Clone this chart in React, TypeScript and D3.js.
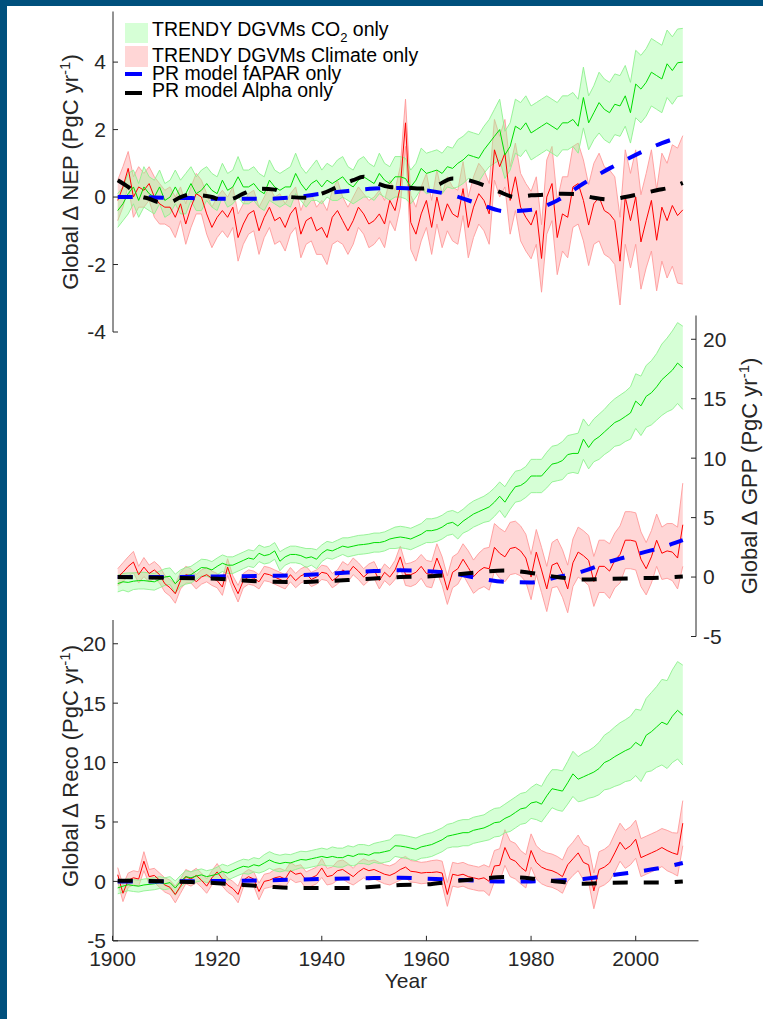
import React from "react";
import * as d3 from "d3";

// ---------------- DATA (years 1901-2009) ----------------
const firstYear = 1901;

// NEP panel
const nepCo2Mean = [-0.4,-0.2,0.1,0.3,-0.1,0.3,0.1,0.0,0.3,-0.1,
 0.0,0.3,0.0,0.1,0.4,0.1,0.2,0.4,0.2,0.1,
 0.5,0.2,0.3,0.6,0.3,0.3,0.4,0.2,0.1,0.5,
 0.3,0.2,0.3,0.3,0.7,0.4,0.2,0.4,0.5,0.3,
 0.5,0.4,0.5,0.6,0.4,0.3,0.5,0.6,0.5,0.4,
 0.7,0.5,0.4,0.6,0.6,0.55,0.3,0.5,0.85,0.7,
 0.75,0.8,0.7,0.9,0.85,1.0,1.1,1.25,1.2,1.15,
 1.4,1.6,1.8,2.0,1.25,1.5,2.1,2.0,2.2,1.9,
 2.0,2.1,2.2,2.1,2.0,2.2,2.2,2.3,2.1,2.95,
 2.2,2.5,2.8,2.6,2.5,2.75,2.7,3.0,2.5,3.35,
 3.2,3.4,3.7,3.6,3.5,3.95,3.75,3.98,4.0];
const nepCo2Sd = [0.5,0.5,0.6,0.5,0.5,0.6,0.5,0.5,0.5,0.5,
 0.5,0.5,0.5,0.6,0.5,0.5,0.6,0.5,0.5,0.5,
 0.5,0.5,0.5,0.6,0.5,0.5,0.5,0.5,0.5,0.6,
 0.5,0.5,0.5,0.6,0.6,0.5,0.5,0.5,0.6,0.5,
 0.5,0.5,0.6,0.6,0.5,0.5,0.6,0.6,0.5,0.5,
 0.6,0.5,0.5,0.6,0.6,0.6,0.5,0.5,0.6,0.6,
 0.6,0.6,0.6,0.6,0.6,0.7,0.7,0.7,0.7,0.7,
 0.7,0.7,0.8,0.9,0.7,0.7,0.8,0.8,0.8,0.8,
 0.8,0.8,0.8,0.8,0.8,0.8,0.8,0.8,0.8,0.9,
 0.8,0.8,0.9,0.9,0.9,0.9,0.9,0.9,0.9,1.0,
 1.0,1.0,1.0,1.0,1.0,1.0,1.0,1.0,1.0];
const nepClimMean = [-0.1,0.3,0.85,0.0,0.3,0.2,0.4,0.0,-0.2,-0.3,
 -0.3,-0.6,-0.2,-0.8,-0.3,0.1,0.0,-0.5,-0.9,-0.6,
 -0.4,-0.6,-0.3,-1.2,-0.8,-0.5,-0.4,-1.0,-0.6,-0.3,
 -0.7,-0.6,-0.9,-0.5,-0.3,-1.1,-0.7,-0.6,-1.0,-0.9,
 -1.2,-0.6,-0.4,-0.7,-1.0,-0.7,-0.3,-0.5,-0.8,-0.7,
 -0.5,-0.8,-0.1,-0.4,0.3,2.2,-0.75,-1.1,-0.5,-0.1,
 -0.9,0.0,-0.7,-0.2,-0.5,-0.6,0.25,-0.9,-0.3,0.1,
 -0.1,-0.5,1.4,0.9,1.3,-0.1,0.6,-0.3,-0.6,-0.83,
 -0.4,-1.82,0.0,0.4,-1.2,-0.5,-0.6,0.3,0.4,-0.1,
 -0.83,-0.2,0.0,-0.4,-0.5,-0.7,-1.9,0.0,-0.7,0.0,
 -1.33,-0.7,-0.1,-1.28,-0.3,-0.7,-0.25,-0.55,-0.38];
const nepClimSd = [0.6,0.6,0.5,0.6,0.6,0.5,0.5,0.6,0.6,0.5,
 0.6,0.6,0.5,0.6,0.6,0.6,0.5,0.6,0.6,0.6,
 0.6,0.6,0.6,0.7,0.6,0.6,0.6,0.7,0.6,0.6,
 0.7,0.7,0.7,0.6,0.6,0.7,0.7,0.7,0.7,0.8,
 0.8,0.8,0.9,0.7,0.7,0.7,0.6,0.6,0.7,0.7,
 0.7,0.7,0.6,0.6,0.6,0.7,0.8,0.8,0.8,0.8,
 0.8,0.8,0.8,0.8,0.8,0.8,0.8,0.9,0.9,0.9,
 0.9,0.9,0.9,0.9,1.0,1.0,1.0,1.0,1.0,1.0,
 1.0,1.0,1.1,1.1,1.1,1.1,1.2,1.2,1.2,1.2,
 1.2,1.2,1.3,1.3,1.3,1.3,1.3,1.4,1.4,1.4,
 1.4,1.4,1.5,1.5,1.6,1.7,1.8,2.0,2.2];
const nepFaparYears = [1901,1905,1910,1915,1920,1925,1930,1935,1940,1945,1950,1955,1960,1965,1970,1975,1980,1985,1990,1995,2000,2005,2009];
const nepFapar = [0,0,-0.02,-0.03,-0.05,-0.05,-0.05,0.0,0.1,0.18,0.25,0.27,0.2,0.05,-0.2,-0.42,-0.38,-0.1,0.4,0.85,1.25,1.6,1.8];
const nepAlphaYears = [1901,1903,1905,1907,1909,1911,1913,1915,1917,1919,1921,1923,1925,1928,1931,1934,1937,1940,1943,1946,1948,1950,1953,1956,1959,1962,1965,1968,1971,1974,1977,1980,1983,1986,1989,1992,1995,1998,2001,2004,2007,2009];
const nepAlpha = [0.5,0.3,0.05,-0.05,-0.15,-0.15,0.0,0.08,0.05,0.0,-0.1,-0.05,0.1,0.25,0.22,0.0,-0.02,0.1,0.3,0.5,0.6,0.45,0.3,0.28,0.25,0.35,0.55,0.5,0.35,0.15,0.0,0.05,0.07,0.1,0.08,-0.02,-0.07,0.0,0.1,0.2,0.3,0.42];

// GPP panel
const gppCo2Mean = [-0.55,-0.4,-0.45,-0.35,-0.3,-0.3,-0.35,-0.4,-0.2,0.0,
 0.07,-0.56,-0.1,0.1,0.2,0.5,0.8,0.76,0.6,0.9,
 1.16,1.0,1.0,1.2,1.4,1.6,1.5,2.0,1.8,1.9,
 2.2,1.33,1.7,1.9,1.9,1.8,1.6,1.7,1.5,2.0,
 2.3,2.2,2.4,2.6,2.5,2.6,2.7,2.74,2.8,2.9,
 2.9,3.0,3.2,3.3,3.37,3.3,3.2,3.4,3.6,3.9,
 3.9,4.0,4.2,4.5,4.6,4.3,4.7,5.0,5.3,5.5,
 5.7,5.9,6.3,6.8,6.3,7.0,7.6,7.7,8.0,8.5,
 8.5,8.5,9.0,9.5,9.6,9.8,10.3,10.4,10.4,11.6,
 10.9,11.5,11.8,12.2,12.6,13.0,13.2,13.5,13.8,14.8,
 14.4,15.2,15.5,16.0,16.6,17.0,17.4,18.0,17.6];
const gppCo2Sd = [0.7,0.7,0.8,0.7,0.7,0.7,0.7,0.7,0.7,0.7,
 0.7,0.8,0.7,0.7,0.7,0.7,0.7,0.7,0.7,0.7,
 0.7,0.7,0.7,0.7,0.7,0.7,0.7,0.7,0.7,0.7,
 0.7,0.8,0.7,0.7,0.7,0.7,0.8,0.7,0.8,0.7,
 0.7,0.7,0.7,0.7,0.8,0.8,0.8,0.8,0.8,0.8,
 0.8,0.8,0.8,0.9,0.9,0.9,0.9,0.9,0.9,1.0,
 1.0,1.0,1.0,1.0,1.0,1.1,1.0,1.1,1.1,1.1,
 1.1,1.2,1.2,1.2,1.3,1.3,1.3,1.3,1.3,1.4,
 1.4,1.4,1.5,1.5,1.5,1.6,1.6,1.6,1.7,1.7,
 1.8,1.8,1.9,1.9,2.0,2.0,2.1,2.1,2.2,2.3,
 2.5,2.6,2.7,2.8,3.0,3.1,3.3,3.4,3.5];
const gppClimMean = [0.0,0.4,0.9,1.26,0.2,0.84,0.3,0.6,0.2,-0.56,
 -0.9,-1.4,-0.3,0.2,0.1,-0.4,0.0,0.2,-0.1,-0.3,
 -0.84,0.84,-0.5,-1.4,-0.3,0.0,-0.1,-0.4,0.3,0.2,
 0.0,-0.2,-0.4,0.2,-0.3,0.1,0.3,-0.2,0.0,0.4,
 0.3,-0.3,0.0,0.6,0.3,0.9,0.5,0.0,0.4,0.6,
 -0.3,0.4,0.0,0.6,1.7,0.2,0.2,0.4,0.9,0.3,
 0.2,1.6,0.5,-1.1,0.4,0.7,1.5,0.8,0.03,0.5,
 0.8,0.7,2.5,2.0,1.7,2.4,2.5,2.2,1.6,0.0,
 2.1,0.6,-1.0,1.0,1.2,0.3,-1.0,1.2,2.1,1.8,
 1.4,-0.37,0.9,0.9,0.5,1.4,1.9,3.1,3.1,3.0,
 1.5,0.7,1.7,3.1,2.0,2.2,2.1,1.6,4.4];
const gppClimSd = [0.7,0.8,0.8,0.9,0.7,0.8,0.7,0.7,0.7,0.7,
 0.7,0.8,0.7,0.7,0.6,0.6,0.6,0.6,0.6,0.6,
 0.7,0.7,0.6,0.7,0.6,0.6,0.6,0.6,0.6,0.6,
 0.6,0.6,0.6,0.6,0.6,0.6,0.6,0.6,0.6,0.6,
 0.6,0.6,0.6,0.7,0.7,0.7,0.7,0.7,0.7,0.7,
 0.7,0.7,0.7,0.8,0.9,0.9,1.0,1.0,1.0,1.1,
 1.1,1.2,1.2,1.2,1.3,1.3,1.3,1.4,1.4,1.5,
 1.6,1.8,2.0,2.1,2.1,2.2,2.2,2.1,2.0,1.9,
 1.9,1.9,1.9,1.9,2.0,2.0,2.0,2.0,2.1,2.1,
 2.1,2.1,2.2,2.2,2.3,2.3,2.4,2.4,2.4,2.4,
 2.3,2.2,2.2,2.2,2.2,2.3,2.4,2.6,3.5];
const gppFaparYears = [1901,1910,1920,1930,1935,1940,1945,1950,1955,1960,1965,1970,1975,1980,1985,1990,1995,2000,2005,2009];
const gppFapar = [0,0.0,0.05,0.1,0.15,0.25,0.38,0.5,0.57,0.5,0.3,-0.1,-0.4,-0.45,0.0,0.5,1.3,1.9,2.5,3.1];
const gppAlphaYears = [1901,1910,1920,1925,1930,1935,1940,1945,1950,1955,1960,1965,1970,1975,1980,1985,1990,1995,2000,2005,2009];
const gppAlpha = [0,-0.05,-0.15,-0.28,-0.4,-0.42,-0.35,-0.25,-0.12,0.0,0.05,0.2,0.4,0.56,0.35,0.0,-0.2,-0.15,-0.1,-0.05,0.05];

// Reco panel
const recoCo2Mean = [-0.55,-0.4,-0.28,-0.35,-0.4,-0.3,-0.25,-0.2,-0.1,-0.2,
 -0.1,-0.56,0.0,0.4,0.3,0.45,0.55,0.4,0.5,0.6,
 0.84,0.7,0.9,1.1,1.27,1.2,1.4,1.3,1.55,1.8,
 1.6,1.5,1.6,1.55,1.7,1.84,1.8,1.9,2.0,2.1,
 2.0,2.1,2.0,2.0,2.2,2.1,2.3,2.3,2.2,2.4,
 2.4,2.5,2.6,3.0,2.97,2.9,2.8,2.7,2.9,3.0,
 3.1,3.3,3.5,3.8,3.9,4.0,4.1,4.1,4.3,4.4,
 4.5,4.7,4.94,5.0,5.3,5.5,5.8,6.1,6.2,6.6,
 6.7,6.5,7.2,7.8,7.7,7.6,8.3,9.05,8.6,8.8,
 9.0,9.2,9.5,10.0,10.2,10.5,10.75,11.0,11.2,11.7,
 11.4,12.3,12.6,13.0,13.4,13.2,13.9,14.4,14.0];
const recoCo2Sd = [0.5,0.5,0.5,0.5,0.5,0.5,0.5,0.5,0.5,0.5,
 0.5,0.6,0.5,0.5,0.5,0.5,0.5,0.5,0.5,0.6,
 0.6,0.6,0.6,0.6,0.6,0.6,0.6,0.6,0.7,0.7,
 0.7,0.7,0.7,0.7,0.7,0.7,0.7,0.7,0.7,0.7,
 0.7,0.8,0.8,0.8,0.8,0.8,0.8,0.8,0.8,0.8,
 0.9,0.9,0.9,0.9,0.95,0.95,0.95,0.95,0.95,1.0,
 1.0,1.0,1.0,1.0,1.0,1.1,1.1,1.1,1.1,1.1,
 1.1,1.2,1.2,1.2,1.2,1.3,1.3,1.3,1.3,1.3,
 1.5,1.5,1.6,1.6,1.7,1.7,1.8,1.9,1.9,2.0,
 2.0,2.1,2.2,2.3,2.4,2.5,2.6,2.6,2.7,2.8,
 3.0,3.1,3.3,3.4,3.6,3.7,3.9,4.1,4.2];
const recoClimMean = [0.56,-1.0,0.1,0.3,0.2,1.7,0.4,0.5,0.1,-0.3,
 -0.5,-1.1,-0.4,0.4,0.2,0.5,0.1,-0.4,0.3,0.8,
 0.2,-0.3,-0.6,-1.1,0.1,0.4,0.2,-0.85,0.0,0.1,
 0.3,0.4,0.2,0.9,0.6,0.7,0.1,0.3,0.5,1.13,
 0.4,0.5,0.9,1.0,0.7,0.4,0.8,1.1,0.9,1.0,
 0.8,0.6,0.5,0.7,1.0,1.2,0.85,0.8,0.7,0.75,
 0.75,0.8,0.7,-1.1,0.6,0.5,0.6,0.4,0.3,0.2,
 0.3,0.0,1.3,1.35,2.85,1.9,1.7,1.2,0.85,2.6,
 1.6,1.2,1.0,0.9,0.7,0.4,1.4,1.9,2.4,1.6,
 1.4,-0.8,1.0,1.2,1.55,2.4,3.3,2.7,3.0,3.55,
 2.0,2.2,2.4,2.6,2.85,2.6,2.4,2.26,4.9];
const recoClimSd = [0.6,0.7,0.6,0.6,0.6,0.8,0.6,0.6,0.6,0.6,
 0.6,0.7,0.6,0.6,0.6,0.6,0.6,0.6,0.6,0.7,
 0.6,0.6,0.6,0.7,0.6,0.6,0.6,0.7,0.6,0.6,
 0.7,0.7,0.7,0.7,0.7,0.7,0.7,0.7,0.7,0.8,
 0.7,0.7,0.8,0.8,0.8,0.7,0.8,0.8,0.8,0.8,
 0.8,0.8,0.8,0.8,0.9,0.9,0.9,0.9,0.9,0.9,
 1.0,1.0,1.0,1.0,1.0,1.0,1.0,1.0,1.0,1.0,
 1.1,1.2,1.3,1.4,1.5,1.5,1.5,1.4,1.4,1.4,
 1.4,1.4,1.4,1.4,1.4,1.4,1.4,1.4,1.5,1.5,
 1.5,1.5,1.5,1.5,1.5,1.6,1.6,1.6,1.6,1.6,
 1.6,1.6,1.6,1.6,1.6,1.7,1.7,1.8,1.9];
const recoFaparYears = [1901,1910,1920,1930,1940,1945,1950,1955,1960,1965,1970,1975,1980,1985,1990,1995,2000,2005,2009];
const recoFapar = [0,0,0.03,0.1,0.2,0.25,0.28,0.3,0.22,0.14,0.05,0.0,0.0,0.08,0.2,0.5,0.8,1.15,1.55];
const recoAlphaYears = [1901,1910,1915,1920,1925,1930,1935,1940,1945,1950,1955,1960,1965,1970,1975,1980,1985,1990,1995,2000,2005,2009];
const recoAlpha = [0.06,0,-0.06,-0.15,-0.3,-0.45,-0.55,-0.56,-0.56,-0.45,-0.3,-0.25,0.0,0.2,0.37,0.25,0.0,-0.2,-0.12,-0.1,-0.1,0.0];

const xTicks = [1900, 1920, 1940, 1960, 1980, 2000];
const nepTicks = [-4, -2, 0, 2, 4];
const gppTicks = [-5, 0, 5, 10, 15, 20];
const recoTicks = [-5, 0, 5, 10, 15, 20];

const legendLabels = ["TRENDY DGVMs CO", "TRENDY DGVMs Climate only", "PR model fAPAR only", "PR model Alpha only"];

// ---------------- STYLE ----------------
const FONT = "'Liberation Sans', Arial, Helvetica, sans-serif";
const AX = "#262626";
const GREEN_FILL = "#99ff99";
const GREEN_EDGE = "#8ef08e";
const GREEN_LINE = "#00dd00";
const RED_FILL = "#ff9999";
const RED_EDGE = "#ff9a9a";
const RED_LINE = "#ff0000";

const x = d3.scaleLinear().domain([1900, 2012]).range([112.5, 698.5]);

type PanelProps = {
  y: d3.ScaleLinear<number, number>;
  co2Mean: number[]; co2Sd: number[];
  climMean: number[]; climSd: number[];
  faparYears: number[]; fapar: number[];
  alphaYears: number[]; alpha: number[];
};

function Panel(p: PanelProps) {
  const yr = (i: number) => firstYear + i;
  const area = (mean: number[], sd: number[]) =>
    d3.area<number>()
      .x((_, i) => x(yr(i)))
      .y0((m, i) => p.y(m - sd[i]))
      .y1((m, i) => p.y(m + sd[i]))(mean) as string;
  const edge = (mean: number[], sd: number[], s: number) =>
    d3.line<number>().x((_, i) => x(yr(i))).y((m, i) => p.y(m + s * sd[i]))(mean) as string;
  const mline = (mean: number[]) =>
    d3.line<number>().x((_, i) => x(yr(i))).y((m) => p.y(m))(mean) as string;
  const smooth = (ys: number[], vs: number[]) =>
    d3.line<number>().curve(d3.curveMonotoneX).x((_, i) => x(ys[i])).y((v) => p.y(v))(vs) as string;
  return (
    <g>
      <path d={area(p.climMean, p.climSd)} fill={RED_FILL} fillOpacity={0.4} stroke="none" />
      <path d={edge(p.climMean, p.climSd, 1)} fill="none" stroke={RED_EDGE} strokeWidth={0.9} />
      <path d={edge(p.climMean, p.climSd, -1)} fill="none" stroke={RED_EDGE} strokeWidth={0.9} />
      <path d={area(p.co2Mean, p.co2Sd)} fill={GREEN_FILL} fillOpacity={0.4} stroke="none" />
      <path d={edge(p.co2Mean, p.co2Sd, 1)} fill="none" stroke={GREEN_EDGE} strokeWidth={0.9} />
      <path d={edge(p.co2Mean, p.co2Sd, -1)} fill="none" stroke={GREEN_EDGE} strokeWidth={0.9} />
      <path d={mline(p.climMean)} fill="none" stroke={RED_LINE} strokeWidth={1} />
      <path d={mline(p.co2Mean)} fill="none" stroke={GREEN_LINE} strokeWidth={1} />
      <path d={smooth(p.faparYears, p.fapar)} fill="none" stroke="#0000ff" strokeWidth={4} strokeDasharray="15,16" />
      <path d={smooth(p.alphaYears, p.alpha)} fill="none" stroke="#000000" strokeWidth={4} strokeDasharray="15,16" />
    </g>
  );
}

function YAxis({ y, ticks, xPos, side }: { y: d3.ScaleLinear<number, number>; ticks: number[]; xPos: number; side: "left" | "right" }) {
  const [d0, d1] = y.range();
  const dir = side === "left" ? 1 : -1;
  return (
    <g>
      <line x1={xPos} x2={xPos} y1={d0} y2={d1} stroke={AX} strokeWidth={1} />
      {ticks.map((t) => (
        <g key={t}>
          <line x1={xPos} x2={xPos + dir * 5} y1={y(t)} y2={y(t)} stroke={AX} strokeWidth={1} />
          <text x={xPos - dir * 7} y={y(t)} dy="0.35em" textAnchor={side === "left" ? "end" : "start"}
            fontSize={21} fill={AX} fontFamily={FONT}>{t}</text>
        </g>
      ))}
    </g>
  );
}

function YLabel({ xPos, yPos, name }: { xPos: number; yPos: number; name: string }) {
  return (
    <text transform={`translate(${xPos},${yPos}) rotate(-90)`} textAnchor="middle" fontSize={22} fill={AX} fontFamily={FONT}>
      {`Global \u2206 ${name} (PgC yr`}
      <tspan dy={-8} fontSize={15}>-1</tspan>
      <tspan dy={8}>)</tspan>
    </text>
  );
}

export default function App() {
  const yNep = d3.scaleLinear().domain([-4, 5.5]).range([332, 11.5]);
  const yGpp = d3.scaleLinear().domain([-5, 22]).range([636.5, 315.5]);
  const yReco = d3.scaleLinear().domain([-5, 22]).range([940.8, 620]);
  const axisLeft = 113;
  const axisRight = 696;
  const xBottom = 940.8;

  return (
    <svg width={763} height={1019} style={{ position: "absolute", left: 0, top: 0, display: "block", background: "#fff" }}
      fontFamily={FONT}>
      <rect x={0} y={0} width={763} height={1019} fill="#ffffff" />
      {/* frame */}
      <rect x={0} y={0} width={763} height={6} fill="#00507d" />
      <rect x={0} y={0} width={7} height={1019} fill="#00507d" />

      <Panel y={yNep} co2Mean={nepCo2Mean} co2Sd={nepCo2Sd} climMean={nepClimMean} climSd={nepClimSd}
        faparYears={nepFaparYears} fapar={nepFapar} alphaYears={nepAlphaYears} alpha={nepAlpha} />
      <Panel y={yGpp} co2Mean={gppCo2Mean} co2Sd={gppCo2Sd} climMean={gppClimMean} climSd={gppClimSd}
        faparYears={gppFaparYears} fapar={gppFapar} alphaYears={gppAlphaYears} alpha={gppAlpha} />
      <Panel y={yReco} co2Mean={recoCo2Mean} co2Sd={recoCo2Sd} climMean={recoClimMean} climSd={recoClimSd}
        faparYears={recoFaparYears} fapar={recoFapar} alphaYears={recoAlphaYears} alpha={recoAlpha} />

      <YAxis y={yNep} ticks={nepTicks} xPos={axisLeft} side="left" />
      <YAxis y={yGpp} ticks={gppTicks} xPos={axisRight} side="right" />
      <YAxis y={yReco} ticks={recoTicks} xPos={axisLeft} side="left" />

      {/* bottom x axis */}
      <line x1={axisLeft} x2={x(2012)} y1={xBottom} y2={xBottom} stroke={AX} strokeWidth={1} />
      {xTicks.map((t) => (
        <g key={t}>
          <line x1={x(t)} x2={x(t)} y1={xBottom} y2={xBottom - 5} stroke={AX} strokeWidth={1} />
          <text x={x(t)} y={966} textAnchor="middle" fontSize={21} fill={AX}>{t}</text>
        </g>
      ))}
      <text x={406} y={988} textAnchor="middle" fontSize={21} fill={AX}>Year</text>

      <YLabel xPos={78} yPos={172} name="NEP" />
      <YLabel xPos={757} yPos={476} name="GPP" />
      <YLabel xPos={78} yPos={766} name="Reco" />

      {/* legend */}
      <rect x={125} y={23} width={23} height={20} fill="#d6ffd6" />
      <rect x={125} y={46} width={23} height={21} fill="#ffd6d6" />
      <line x1={125} x2={142} y1={74} y2={74} stroke="#0000ff" strokeWidth={4} />
      <line x1={125} x2={142} y1={93} y2={93} stroke="#000" strokeWidth={4} />
      <text x={152} y={36} fontSize={19.5} fill="#000">{legendLabels[0]}<tspan dy={6} fontSize={13}>2</tspan><tspan dy={-6}> only</tspan></text>
      <text x={152} y={62} fontSize={19.5} fill="#000">{legendLabels[1]}</text>
      <text x={152} y={80} fontSize={19.5} fill="#000">{legendLabels[2]}</text>
      <text x={152} y={97} fontSize={19.5} fill="#000">{legendLabels[3]}</text>
    </svg>
  );
}
